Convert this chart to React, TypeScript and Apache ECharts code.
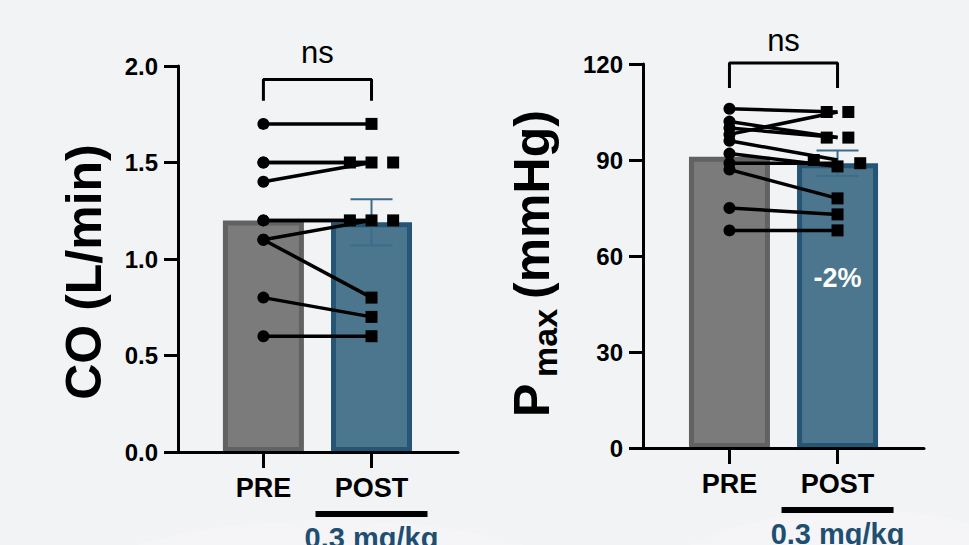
import React, { useEffect, useRef } from 'react';
import * as echarts from 'echarts';

// ---------- data ----------
const categories = ['PRE', 'POST'];
const doseLabel = '0.3 mg/kg';
const sigLabel = 'ns';

// Cardiac output (L/min)
const coPre = [1.7, 1.5, 1.4, 1.5, 1.2, 1.1, 1.2, 1.1, 0.8, 0.6];
const coPost = [1.7, 1.5, 1.5, 1.5, 1.2, 1.2, 1.2, 0.8, 0.7, 0.6];
const coPostJitter = [0, -0.2, 0, 0.2, -0.2, 0, 0.2, 0, 0, 0];
const coBarMeans = [1.2, 1.19];
const coPostSem = [0.12];
const coBracket = [1.82, 1.93];
const coSigY = [2.07];
const coTicks = [0, 2, 0.5];

// Pmax (mmHg)
const pmaxPre = [106, 98, 102, 100, 96, 92, 89, 87, 75, 68];
const pmaxPost = [105, 105, 97, 97, 90, 88, 89, 78, 73, 68];
const pmaxPostJitter = [-0.1, 0.1, -0.1, 0.1, -0.22, 0, 0.21, 0, 0, 0];
const pmaxBarMeans = [91, 89];
const pmaxPostSem = [4];
const pmaxBracket = [112.5, 120.3];
const pmaxSigY = [127.5];
const pmaxTicks = [0, 120, 30];
const pmaxChange = ['-2%'];
const pmaxChangeY = [53];

// ---------- styles ----------
const FONT = "'Liberation Sans', Arial, Helvetica, sans-serif";
const BG = '#f2f3f5';
const BAR_FILL = ['#7a7b7a', '#4b768e'];
const BAR_BORDER = ['#626262', '#245575'];
const ERR_COLOR = '#3d6c8b';
const DOSE_COLOR = '#1f4f70';

type Panel = {
  pre: number[];
  post: number[];
  jitter: number[];
  means: number[];
  sem: number[];
  bracket: number[];
  sigY: number[];
  ticks: number[];
  decimals: number;
  grid: any;
  xMin: number;
  xMax: number;
};

function buildPanel(idx: number, p: Panel) {
  const grid = { ...p.grid, containLabel: false, outerBoundsMode: 'none' };
  const xAxis = {
    type: 'value',
    gridIndex: idx,
    min: p.xMin,
    max: p.xMax,
    z: 10,
    splitLine: { show: false },
    axisLine: { show: true, onZero: false, lineStyle: { color: '#000', width: 3 } },
    axisTick: {
      show: true,
      customValues: [0, 1],
      length: 16,
      lineStyle: { color: '#000', width: 3 },
    },
    axisLabel: {
      show: true,
      customValues: [0, 1],
      margin: 21,
      formatter: (v: number) =>
        v === 0
          ? `{a|${categories[0]}}`
          : `{a|${categories[1]}}\n{u| }\n{d|${doseLabel}}`,
      rich: {
        a: { fontFamily: FONT, fontWeight: 'bold', fontSize: 27, lineHeight: 30, color: '#000' },
        u: { width: 112, height: 6, lineHeight: 22, backgroundColor: '#000', fontSize: 2 },
        d: { fontFamily: FONT, fontWeight: 'bold', fontSize: 29, lineHeight: 25, color: DOSE_COLOR },
      },
    },
  };
  const yAxis = {
    type: 'value',
    gridIndex: idx,
    min: p.ticks[0],
    max: p.ticks[1],
    interval: p.ticks[2],
    z: 10,
    splitLine: { show: false },
    axisLine: { show: true, onZero: false, lineStyle: { color: '#000', width: 3 } },
    axisTick: { show: true, length: 14, lineStyle: { color: '#000', width: 3 } },
    axisLabel: {
      margin: 20,
      fontFamily: FONT,
      fontWeight: 'bold',
      fontSize: 24,
      color: '#000',
      formatter: (v: number) => v.toFixed(p.decimals),
    },
  };

  const common = { xAxisIndex: idx, yAxisIndex: idx, silent: true };
  const series: any[] = [];

  series.push({
    ...common,
    type: 'bar',
    barWidth: 81,
    z: 1,
    data: p.means.map((m, i) => ({
      value: [i, m],
      itemStyle: { color: BAR_FILL[i], borderColor: BAR_BORDER[i], borderWidth: 5 },
    })),
  });

  series.push({
    ...common,
    type: 'custom',
    z: 2,
    data: [[1, p.means[1], p.sem[0]]],
    renderItem: (_params: any, api: any) => {
      const x = api.value(0);
      const m = api.value(1);
      const s = api.value(2);
      const top = api.coord([x, m + s]);
      const bot = api.coord([x, m - s]);
      const half = 21;
      const st = { stroke: ERR_COLOR, lineWidth: 2 };
      return {
        type: 'group',
        children: [
          { type: 'line', shape: { x1: top[0], y1: top[1], x2: bot[0], y2: bot[1] }, style: st },
          { type: 'line', shape: { x1: top[0] - half, y1: top[1], x2: top[0] + half, y2: top[1] }, style: st },
          { type: 'line', shape: { x1: bot[0] - half, y1: bot[1], x2: bot[0] + half, y2: bot[1] }, style: st },
        ],
      };
    },
  });

  p.pre.forEach((v, i) => {
    series.push({
      ...common,
      type: 'line',
      z: 3,
      symbol: 'none',
      lineStyle: { color: '#000', width: 3.5, opacity: 1 },
      data: [
        [0, v],
        [1, p.post[i]],
      ],
    });
  });

  series.push({
    ...common,
    type: 'scatter',
    z: 4,
    symbol: 'circle',
    symbolSize: 12,
    itemStyle: { color: '#000', opacity: 1 },
    data: p.pre.map((v) => [0, v]),
  });
  series.push({
    ...common,
    type: 'scatter',
    z: 4,
    symbol: 'rect',
    symbolSize: 12,
    itemStyle: { color: '#000', opacity: 1 },
    data: p.post.map((v, i) => [1 + p.jitter[i], v]),
  });

  series.push({
    ...common,
    type: 'line',
    z: 4,
    clip: false,
    symbol: 'none',
    lineStyle: { color: '#000', width: 3 },
    data: [
      [0, p.bracket[0]],
      [0, p.bracket[1]],
      [1, p.bracket[1]],
      [1, p.bracket[0]],
    ],
  });
  series.push({
    ...common,
    type: 'scatter',
    z: 4,
    clip: false,
    symbol: 'circle',
    symbolSize: 1,
    itemStyle: { color: 'rgba(0,0,0,0)', opacity: 1 },
    label: {
      show: true,
      position: 'inside',
      formatter: sigLabel,
      fontFamily: FONT,
      fontSize: 31,
      color: '#000',
      opacity: 1,
    },
    data: [[0.5, p.sigY[0]]],
  });

  return { grid, xAxis, yAxis, series };
}

export default function App() {
  const ref = useRef<HTMLDivElement>(null);

  useEffect(() => {
    document.body.style.margin = '0';
    if (!ref.current) return;
    const chart = echarts.init(ref.current, undefined, { renderer: 'svg' });

    const left = buildPanel(0, {
      pre: coPre,
      post: coPost,
      jitter: coPostJitter,
      means: coBarMeans,
      sem: coPostSem,
      bracket: coBracket,
      sigY: coSigY,
      ticks: coTicks,
      decimals: 1,
      grid: { left: 178, top: 66, width: 280, height: 386 },
      xMin: -0.79,
      xMax: 1.8,
    });
    const right = buildPanel(1, {
      pre: pmaxPre,
      post: pmaxPost,
      jitter: pmaxPostJitter,
      means: pmaxBarMeans,
      sem: pmaxPostSem,
      bracket: pmaxBracket,
      sigY: pmaxSigY,
      ticks: pmaxTicks,
      decimals: 0,
      grid: { left: 643, top: 64, width: 281, height: 384 },
      xMin: -0.8,
      xMax: 1.8,
    });

    right.series.push({
      xAxisIndex: 1,
      yAxisIndex: 1,
      silent: true,
      type: 'scatter',
      z: 5,
      symbol: 'circle',
      symbolSize: 1,
      itemStyle: { color: 'rgba(0,0,0,0)', opacity: 1 },
      label: {
        show: true,
        position: 'inside',
        formatter: pmaxChange[0],
        fontFamily: FONT,
        fontWeight: 'bold',
        fontSize: 27,
        color: '#fff',
        opacity: 1,
      },
      data: [[1, pmaxChangeY[0]]],
    });

    const option: any = {
      animation: false,
      backgroundColor: BG,
      grid: [left.grid, right.grid],
      xAxis: [left.xAxis, right.xAxis],
      yAxis: [left.yAxis, right.yAxis],
      series: [...left.series, ...right.series],
      graphic: [
        {
          type: 'ellipse',
          silent: true,
          z: -10,
          shape: { cx: 330, cy: 660, rx: 340, ry: 140 },
          style: { fill: 'rgba(255,255,255,0.22)' },
        },
        {
          type: 'ellipse',
          silent: true,
          z: -10,
          shape: { cx: 860, cy: 640, rx: 250, ry: 130 },
          style: { fill: 'rgba(255,255,255,0.22)' },
        },
        {
          type: 'text',
          x: 84,
          y: 272,
          rotation: Math.PI / 2,
          style: {
            text: 'CO (L/min)',
            font: `bold 50px ${FONT}`,
            fill: '#000',
            align: 'center',
            verticalAlign: 'middle',
          },
        },
        {
          type: 'group',
          x: 532,
          y: 417,
          rotation: Math.PI / 2,
          children: [
            {
              type: 'text',
              x: 0,
              y: 0,
              style: { text: 'P', font: `bold 50px ${FONT}`, fill: '#000', align: 'left', verticalAlign: 'middle' },
            },
            {
              type: 'text',
              x: 40,
              y: 13,
              style: { text: 'max', font: `bold 34px ${FONT}`, fill: '#000', align: 'left', verticalAlign: 'middle' },
            },
            {
              type: 'text',
              x: 118,
              y: 0,
              style: { text: '(mmHg)', font: `bold 50px ${FONT}`, fill: '#000', align: 'left', verticalAlign: 'middle' },
            },
          ],
        },
      ],
    };

    chart.setOption(option);
    return () => chart.dispose();
  }, []);

  return (
    <div
      ref={ref}
      style={{ position: 'fixed', left: 0, top: 0, width: 969, height: 545 }}
    />
  );
}
